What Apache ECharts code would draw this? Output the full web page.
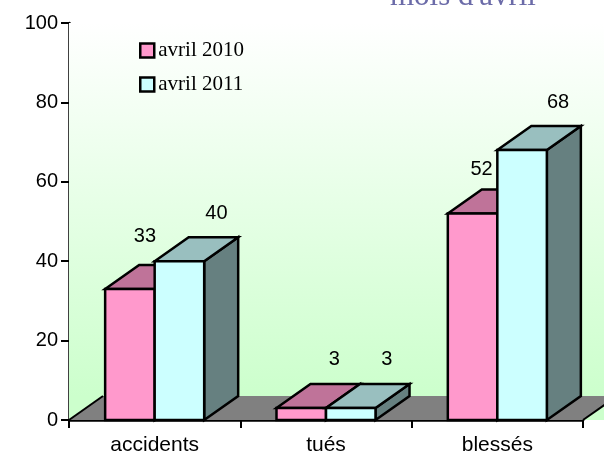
<!DOCTYPE html>
<html>
<head>
<meta charset="UTF-8" />
<title>mois d'avril</title>
<script src="https://cdn.jsdelivr.net/npm/echarts@6/dist/echarts.min.js"></script>
</head>
<body style="margin: 0; background: #fff">
<div id="main" style="width: 604px; height: 452px"></div>
<script>
var categories = ['accidents', 'tués', 'blessés'];
var avril2010 = [33, 3, 52];
var avril2011 = [40, 3, 68];
var yTicks = [0, 100];

var chart = echarts.init(document.getElementById('main'), null, { renderer: 'canvas' });

// the fake 3d depth of the excel chart
var DX = 34, DY = 24;
var BAR_SHARE = 0.289;

// label nudges, pink labels sit closer to the bar because of the neighbour
var shift2010 = [[15, -53], [33, -49], [9, -44]];
var shift2011 = [[37, -48], [36, -49], [36, -48]];

function backdrop(params, api) {
    var cs = params.coordSys;
    var bottom = api.coord([0, 0])[1];
    var floorY = bottom - DY;
    var right = 620;
    var wall = new echarts.graphic.LinearGradient(0, 0, 0, 1, [
        { offset: 0, color: '#ffffff' },
        { offset: 0.94, color: '#ccffcc' },
        { offset: 1, color: '#ccffcc' }
    ]);
    return {
        type: 'group',
        children: [
            { type: 'rect', shape: { x: cs.x, y: cs.y, width: right - cs.x, height: bottom - cs.y }, style: { fill: wall } },
            { type: 'polygon', shape: { points: [[cs.x, bottom], [cs.x + DX, floorY], [cs.x + 548, floorY], [cs.x + 514, bottom]] }, style: { fill: '#808080' } },
            { type: 'line', shape: { x1: cs.x, y1: bottom, x2: cs.x + DX, y2: floorY }, style: { stroke: '#000', lineWidth: 2 } },
            { type: 'line', shape: { x1: cs.x + 514, y1: bottom, x2: cs.x + 548, y2: floorY }, style: { stroke: '#000', lineWidth: 2 } }
        ]
    };
}

function box(face, top, side, seriesIdx, shifts) {
    return function (params, api) {
        var i = api.value(0);
        var val = api.value(1);
        var w = api.size([1, 0])[0] * BAR_SHARE;
        var center = api.coord([i, 0])[0];
        var x0 = seriesIdx === 0 ? center - w : center;
        var x1 = x0 + w;
        var y0 = api.coord([i, 0])[1];
        var y1 = api.coord([i, val])[1];
        var line = { stroke: '#000', lineWidth: 2.5, lineJoin: 'miter' };
        return {
            type: 'group',
            children: [
                { type: 'polygon', shape: { points: [[x1, y0], [x1 + DX, y0 - DY], [x1 + DX, y1 - DY], [x1, y1]] }, style: Object.assign({ fill: side }, line) },
                { type: 'polygon', shape: { points: [[x0, y1], [x0 + DX, y1 - DY], [x1 + DX, y1 - DY], [x1, y1]] }, style: Object.assign({ fill: top }, line) },
                { type: 'rect', shape: { x: x0, y: y1, width: w, height: y0 - y1 }, style: Object.assign({ fill: face }, line) },
                {
                    type: 'text',
                    z2: 10,
                    style: {
                        text: String(val),
                        x: (x0 + x1) / 2 + shifts[i][0],
                        y: y1 + shifts[i][1],
                        align: 'center',
                        verticalAlign: 'middle',
                        fill: '#000',
                        font: '20px "Liberation Sans"'
                    }
                }
            ]
        };
    };
}

function rows(values) {
    return values.map(function (v, i) { return [i, v]; });
}

chart.setOption({
    animation: false,
    backgroundColor: '#fff',
    title: {
        text: "mois d'avril",
        left: 385,
        top: -24,
        textStyle: { fontFamily: 'Liberation Serif', fontWeight: 'normal', fontSize: 31, color: '#6b6ba8' }
    },
    legend: {
        data: ['avril 2010', 'avril 2011'],
        orient: 'vertical',
        left: 134,
        top: 35,
        itemWidth: 14,
        itemHeight: 14,
        itemGap: 13,
        icon: 'rect',
        textStyle: { fontFamily: 'Liberation Serif', fontSize: 21, color: '#000', padding: [0, 0, 0, -1] },
        itemStyle: { borderColor: '#000', borderWidth: 2.5 }
    },
    grid: { left: 69, top: 23, width: 514, height: 397, outerBoundsMode: 'none' },
    xAxis: {
        type: 'category',
        data: categories,
        axisLine: { show: true, lineStyle: { color: '#000', width: 2.5 } },
        axisTick: { show: true, alignWithLabel: false, length: 8, lineStyle: { color: '#000', width: 2 } },
        axisLabel: { color: '#000', fontFamily: 'Liberation Sans', fontSize: 21, margin: 15 }
    },
    yAxis: {
        type: 'value',
        min: yTicks[0],
        max: yTicks[1],
        interval: 20,
        splitLine: { show: false },
        axisLine: { show: true, lineStyle: { color: '#000', width: 2.5 } },
        axisTick: { show: true, length: 8, lineStyle: { color: '#000', width: 2 } },
        axisLabel: { color: '#000', fontFamily: 'Liberation Sans', fontSize: 20, margin: 11 }
    },
    series: [
        { type: 'custom', silent: true, z: 1, renderItem: backdrop, data: [[0, 0]], encode: { x: 0, y: 1 } },
        {
            name: 'avril 2010', type: 'custom', z: 2, data: rows(avril2010), encode: { x: 0, y: 1 },
            itemStyle: { color: '#ff99cc' },
            renderItem: box('#ff99cc', '#bf7399', '#804d66', 0, shift2010)
        },
        {
            name: 'avril 2011', type: 'custom', z: 3, data: rows(avril2011), encode: { x: 0, y: 1 },
            itemStyle: { color: '#ccffff' },
            renderItem: box('#ccffff', '#99bfbf', '#668080', 1, shift2011)
        }
    ]
});
</script>
</body>
</html>
